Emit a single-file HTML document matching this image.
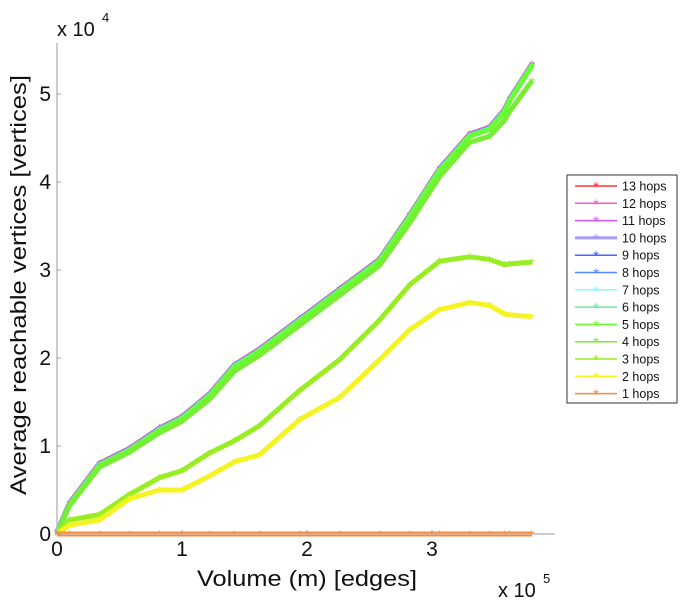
<!DOCTYPE html>
<html><head><meta charset="utf-8"><style>
body{margin:0;background:#fff;}
svg{font-family:"Liberation Sans",sans-serif;}
</style></head><body>
<svg id="chart" width="682" height="600" viewBox="0 0 682 600">
<g id="plot"></g>
<g id="axes"></g>
<g id="legend"></g>
</svg>
<script>
const xVals = [0,0.1,0.34,0.58,0.82,1.0,1.22,1.42,1.62,1.94,2.26,2.58,2.82,3.06,3.3,3.46,3.58,3.62,3.8];
const topSeries = [0,0.33,0.78,0.95,1.18,1.31,1.57,1.9,2.08,2.42,2.76,3.1,3.6,4.13,4.52,4.6,4.8,4.92,5.32];
const hop4Series = [0,0.32,0.76,0.93,1.15,1.28,1.53,1.85,2.03,2.37,2.71,3.05,3.53,4.06,4.45,4.52,4.7,4.8,5.15];
const hop3Series = [0,0.16,0.22,0.45,0.64,0.72,0.92,1.06,1.23,1.63,1.98,2.43,2.83,3.1,3.15,3.12,3.06,3.07,3.09];
const hop2Series = [0,0.1,0.16,0.4,0.5,0.5,0.66,0.82,0.9,1.3,1.55,1.98,2.32,2.55,2.63,2.6,2.5,2.49,2.47];
const hop1Series = [0,0,0,0,0,0,0,0,0,0,0,0,0,0,0,0,0,0,0];
const xTicks = [0,1,2,3];
const yTicks = [0,1,2,3,4,5];
const legendLabels = ["13 hops","12 hops","11 hops","10 hops","9 hops","8 hops","7 hops","6 hops","5 hops","4 hops","3 hops","2 hops","1 hops"];
const colors = ["#ff3333","#ff55cc","#cc55ff","#aa99ff","#4466ff","#5588ff","#88ffff","#66ee99","#66ff33","#77ee33","#99ee22","#f4f422","#ff8833"];

const NS="http://www.w3.org/2000/svg";
const X0=57,XS=125,Y0=534,YS=88;
const sx=v=>X0+v*XS, sy=v=>Y0-v*YS;
function mk(t,a,p){const e=document.createElementNS(NS,t);for(const k in a)e.setAttribute(k,a[k]);p.appendChild(e);return e;}
const plot=document.getElementById('plot'),axes=document.getElementById('axes'),leg=document.getElementById('legend');

const seriesData=[topSeries,topSeries,topSeries,topSeries,topSeries,topSeries,topSeries,topSeries,topSeries,hop4Series,hop3Series,hop2Series,hop1Series];
const drawOrder=[0,1,2,3,4,5,6,7,8,9,10,11,12];
drawOrder.forEach(i=>{
  const ys=seriesData[i];
  const g=mk('g',{},plot);
  
  
  const off=(i<9)?(8-i)*0.25:0;
  const pts=xVals.map((x,k)=>sx(x)+','+(sy(ys[k])-off)).join(' ');
  const pl=mk('polyline',{points:pts,fill:'none',stroke:colors[i],'stroke-width':5,'stroke-linejoin':'round'},g);
  
  
  xVals.forEach((x,k)=>{
    const t=mk('text',{x:sx(x),y:sy(ys[k])-off+6,'text-anchor':'middle','font-size':14,fill:colors[i]},g);
    t.textContent='*';
    
    
  });
});

const yl=mk('line',{x1:X0,y1:43,x2:X0,y2:Y0,stroke:'#bbb','stroke-width':1.5},axes);


const xl=mk('line',{x1:X0,y1:Y0,x2:555,y2:Y0,stroke:'#bbb','stroke-width':1.5},axes);


xTicks.forEach(v=>{
  mk('line',{x1:sx(v),y1:Y0,x2:sx(v),y2:Y0-4,stroke:'#999'},axes);
  const t=mk('text',{x:sx(v),y:Y0+22,'text-anchor':'middle','font-size':21,fill:'#111'},axes);
  t.textContent=v;
  
  
});
yTicks.forEach(v=>{
  mk('line',{x1:X0,y1:sy(v),x2:X0+4,y2:sy(v),stroke:'#999'},axes);
  const t=mk('text',{x:X0-6,y:sy(v)+7,'text-anchor':'end','font-size':21,fill:'#111'},axes);
  t.textContent=v;
  
  
});
</script>
<script>
(function(){
const NS="http://www.w3.org/2000/svg";
const ax=document.getElementById('axes');
function txt(x,y,s,fs,attrs,name){const t=document.createElementNS(NS,'text');t.setAttribute('x',x);t.setAttribute('y',y);t.setAttribute('font-size',fs);t.setAttribute('fill','#111');for(const k in attrs)t.setAttribute(k,attrs[k]);t.textContent=s;


ax.appendChild(t);return t;}
txt(307,586,'Volume (m) [edges]',22,{'text-anchor':'middle',textLength:220,lengthAdjust:'spacingAndGlyphs'},'x-axis-title');
txt(26,285,'Average reachable vertices [vertices]',22,{'text-anchor':'middle',textLength:420,lengthAdjust:'spacingAndGlyphs',transform:'rotate(-90 26 285)'},'y-axis-title');
txt(57,36,'x 10',20,{},'y-multiplier');
txt(102,22,'4',13,{},'y-multiplier-exp');
txt(498,597,'x 10',20,{},'x-multiplier');
txt(543,583,'5',13,{},'x-multiplier-exp');
const leg=document.getElementById('legend');
const box=document.createElementNS(NS,'rect');
box.setAttribute('x',567);box.setAttribute('y',175);box.setAttribute('width',110);box.setAttribute('height',228);
box.setAttribute('fill','#fff');box.setAttribute('stroke','#333');box.setAttribute('stroke-width',1);


leg.appendChild(box);
legendLabels.forEach((lab,i)=>{
  const y=186+i*17.3;
  const l=document.createElementNS(NS,'line');
  l.setAttribute('x1',575);l.setAttribute('x2',617);l.setAttribute('y1',y);l.setAttribute('y2',y);
  l.setAttribute('stroke',colors[i]);l.setAttribute('stroke-width',i==3?3:1.5);
  
  
  leg.appendChild(l);
  const m=document.createElementNS(NS,'text');
  m.setAttribute('x',596);m.setAttribute('y',y+6);m.setAttribute('text-anchor','middle');m.setAttribute('font-size',15);m.setAttribute('fill',colors[i]);
  m.textContent='*';
  
  
  leg.appendChild(m);
  const t=document.createElementNS(NS,'text');
  t.setAttribute('x',622);t.setAttribute('y',y+4.5);t.setAttribute('font-size',12.5);t.setAttribute('fill','#111');
  t.textContent=lab;
  
  
  leg.appendChild(t);
});
})();
</script>
</body></html>
